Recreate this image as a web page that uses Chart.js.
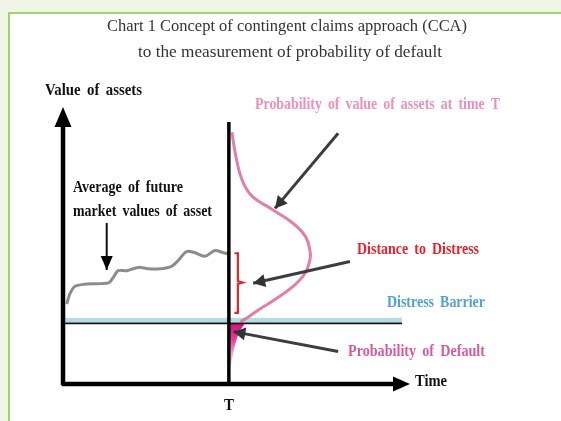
<!DOCTYPE html>
<html>
<head>
<meta charset="utf-8">
<script src="https://cdn.jsdelivr.net/npm/chart.js@4/dist/chart.umd.min.js"></script>
<style>
  html, body { margin: 0; padding: 0; }
  body { width: 561px; height: 421px; background: #eff5e4; position: relative; overflow: hidden; }
  #box { position: absolute; left: 8px; top: 12px; right: 0; bottom: 0; background: #ffffff;
         border-left: 2px solid #a2d26b; border-top: 2px solid #a2d26b; }
  #wrap { position: absolute; left: 0; top: 0; width: 561px; height: 421px; }
</style>
</head>
<body>
<div id="box"></div>
<div id="wrap"><canvas id="c" width="561" height="421"></canvas></div>
<script>
// ---- data (arbitrary units: time 0..100, value of assets 0..100) ----
const T = 47.8;                 // horizon T on the time axis
const barrier = 21.9;           // distress barrier (value of assets)
const timeAxisEnd = 100;
const valueAxisTop = 100;
const tLineTop = 94.6;
const barrierEnd = 97.7;

// average of future market values of assets (grey path)
const assetTime  = [1.1, 2.0, 3.5, 6.8, 13.1, 14.5, 15.9, 18.4, 21.7, 24.6, 28.0, 31.3, 33.2, 35.6, 38.0, 40.9, 43.8, 46.2, 47.6];
const assetValue = [28.9, 32.6, 35.3, 36.1, 36.5, 38.5, 40.9, 40.9, 42.1, 41.6, 41.6, 42.5, 44.6, 47.8, 47.4, 46.1, 48.2, 47.4, 47.0];

// probability density of value of assets at time T (above barrier)
const densityValue = [22.5, 23.8, 26.8, 30.5, 35.3, 40.1, 45.0, 48.0, 53.4, 58.3, 63.1, 67.9, 74.0, 83.6, 90.9];
const densityWidth = [3.3, 5.2, 8.6, 13.3, 18.6, 22.0, 23.4, 23.4, 22.0, 18.2, 12.4, 6.6, 3.7, 1.8, 0.9];

// probability of default tail (below barrier)
const tailValue = [21.9, 21.7, 19.5, 16.0, 11.0, 5.0];
const tailWidth = [0.0, 4.3, 3.3, 2.2, 1.2, 0.4];

// distance to distress bracket
const bracketLow = 25.7, bracketMid = 36.6, bracketHigh = 47.2;

// annotation arrows [fromTime, fromValue, toTime, toValue]
const arrowFrom = [[79.3, 90.5], [82.7, 44.2], [79.3, 11.7], [12.6, 58.1]];
const arrowTo   = [[61.1, 63.4], [54.8, 36.4], [49.1, 18.9], [12.6, 41.2]];

// texts
const titleLines = ["Chart 1 Concept of contingent claims approach (CCA)", "to the measurement of probability of default"];
const yAxisLabel = "Value of assets";
const xAxisLabel = "Time";
const tLabel = "T";
const averageLabel = ["Average of future", "market values of asset"];
const densityLabel = "Probability of value of assets at time T";
const distanceLabel = "Distance to Distress";
const barrierLabel = "Distress Barrier";
const defaultLabel = "Probability of Default";

// ---- build datasets ----
const pts = (xs, ys) => xs.map((x, i) => ({ x: x, y: ys[i] }));
const base = { pointRadius: 0, pointHoverRadius: 0, showLine: true, fill: false, clip: false };

const datasets = [];
// axes
datasets.push(Object.assign({}, base, { label: 'yaxis', data: [{x:0,y:-0.4},{x:0,y:valueAxisTop-6}], borderColor:'#000', borderWidth:4.5, order:1 }));
datasets.push(Object.assign({}, base, { label: 'xaxis', data: [{x:-0.4,y:0},{x:timeAxisEnd-4},].map(p=>({x:p.x,y:0})), borderColor:'#000', borderWidth:4.5, order:1 }));
datasets.push(Object.assign({}, base, { label: 'T', data: [{x:T,y:0},{x:T,y:tLineTop}], borderColor:'#000', borderWidth:3.5, order:2 }));
// barrier
datasets.push(Object.assign({}, base, { label: 'barrier', data: [{x:0.6,y:barrier},{x:barrierEnd,y:barrier}], borderColor:'#111', borderWidth:1.8, order:3 }));
// asset path
datasets.push(Object.assign({}, base, { label: 'asset', data: pts(assetTime, assetValue), borderColor:'#8c8c8c', borderWidth:3, tension:0.3, order:5 }));
// density
datasets.push(Object.assign({}, base, { label: 'density', data: pts(densityWidth.map(w => T + w), densityValue), borderColor:'rgba(222,112,162,0.9)', borderWidth:3, tension:0.4, order:6 }));
// tail
datasets.push(Object.assign({}, base, {
  label: 'tail',
  data: pts(tailWidth.map(w => T + w), tailValue).concat([{x:T, y:tailValue[tailValue.length-1]}]),
  borderWidth: 0, borderColor: 'rgba(0,0,0,0)', tension: 0.3, fill: 'shape', order: 7,
  backgroundColor: (c) => {
    const ch = c.chart;
    if (!ch.chartArea) return 'rgba(220,30,130,0.8)';
    const y0 = ch.scales.y.getPixelForValue(tailValue[0]);
    const y1 = ch.scales.y.getPixelForValue(tailValue[tailValue.length-1]);
    const g = ch.ctx.createLinearGradient(0, y0, 0, y1);
    g.addColorStop(0, '#d4107e');
    g.addColorStop(0.35, '#e2409a');
    g.addColorStop(1, 'rgba(245,170,210,0.25)');
    return g;
  }
}));
// bracket
datasets.push(Object.assign({}, base, {
  label: 'bracket',
  data: [{x:T+1.6,y:bracketHigh},{x:T+2.6,y:bracketHigh},{x:T+2.6,y:bracketMid+0.5},{x:T+4.0,y:bracketMid},{x:T+2.6,y:bracketMid-0.5},{x:T+2.6,y:bracketLow},{x:T+1.6,y:bracketLow}],
  borderColor:'#e8232b', borderWidth:2.2, order:4
}));
// arrows
arrowFrom.forEach((f, i) => {
  datasets.push(Object.assign({}, base, { label: 'arrow'+i, data: [{x:f[0],y:f[1]},{x:arrowTo[i][0],y:arrowTo[i][1]}], borderColor: i===3 ? '#111' : '#3d3d3d', borderWidth: i===3 ? 2 : 3, order:0 }));
});

// ---- plugin: band, arrowheads, texts ----
function fitText(ctx, text, x, y, width, align) {
  const w = ctx.measureText(text).width;
  const s = width / w;
  ctx.save();
  let left = x;
  if (align === 'center') left = x - width / 2;
  ctx.translate(left, y);
  ctx.scale(s, 1);
  ctx.textAlign = 'left';
  ctx.fillText(text, 0, 0);
  ctx.restore();
}
function head(ctx, tx, ty, fx, fy, len, half, color) {
  const a = Math.atan2(ty - fy, tx - fx);
  ctx.save();
  ctx.fillStyle = color;
  ctx.beginPath();
  ctx.moveTo(tx, ty);
  ctx.lineTo(tx - len*Math.cos(a) + half*Math.sin(a), ty - len*Math.sin(a) - half*Math.cos(a));
  ctx.lineTo(tx - len*Math.cos(a) - half*Math.sin(a), ty - len*Math.sin(a) + half*Math.cos(a));
  ctx.closePath();
  ctx.fill();
  ctx.restore();
}

const deco = {
  id: 'deco',
  beforeDatasetsDraw(chart) {
    const {ctx, scales:{x, y}} = chart;
    const py = y.getPixelForValue(barrier);
    ctx.save();
    ctx.fillStyle = '#b5dbe3';
    ctx.fillRect(x.getPixelForValue(0), py - 5.5, x.getPixelForValue(barrierEnd) - x.getPixelForValue(0), 4.5);
    ctx.restore();
  },
  afterDatasetsDraw(chart) {
    const {ctx, scales:{x, y}} = chart;
    // axis arrowheads
    head(ctx, x.getPixelForValue(0), y.getPixelForValue(valueAxisTop), x.getPixelForValue(0), y.getPixelForValue(0), 20, 8.5, '#000');
    head(ctx, x.getPixelForValue(timeAxisEnd), y.getPixelForValue(0), x.getPixelForValue(0), y.getPixelForValue(0), 17, 7.5, '#000');
    // annotation arrowheads
    arrowFrom.forEach((f, i) => {
      const t = arrowTo[i];
      head(ctx, x.getPixelForValue(t[0]), y.getPixelForValue(t[1]), x.getPixelForValue(f[0]), y.getPixelForValue(f[1]),
           i===3 ? 14 : 12, i===3 ? 6 : 6.5, i===3 ? '#000' : '#333');
    });

    // texts
    ctx.save();
    ctx.textBaseline = 'middle';
    ctx.fillStyle = '#333';
    ctx.font = '17px "Liberation Serif", "DejaVu Serif", serif';
    fitText(ctx, titleLines[0], 287, 27, 360, 'center');
    fitText(ctx, titleLines[1], 290, 53, 304, 'center');

    const bold = 'bold 16px "Liberation Serif", "DejaVu Serif", serif';
    ctx.font = bold;
    try { ctx.wordSpacing = '3px'; } catch (e) {}
    ctx.fillStyle = '#111';
    fitText(ctx, yAxisLabel, 45, 91, 97);
    fitText(ctx, averageLabel[0], 73, 188, 110);
    fitText(ctx, averageLabel[1], 73, 212, 139);
    fitText(ctx, xAxisLabel, 415, 382, 32);
    fitText(ctx, tLabel, 229, 406, 10, 'center');
    ctx.fillStyle = '#ec8fba';
    fitText(ctx, densityLabel, 255, 105, 245);
    ctx.fillStyle = '#e5232b';
    fitText(ctx, distanceLabel, 357, 250, 122);
    ctx.fillStyle = '#4f9fd8';
    fitText(ctx, barrierLabel, 387, 303, 98);
    ctx.fillStyle = '#d65aa0';
    fitText(ctx, defaultLabel, 348, 352, 137);
    ctx.restore();
  }
};

new Chart(document.getElementById('c'), {
  type: 'scatter',
  data: { datasets: datasets },
  options: {
    responsive: false,
    animation: false,
    events: [],
    layout: { padding: { left: 63, right: 151, top: 107, bottom: 37 } },
    scales: {
      x: { type: 'linear', min: 0, max: 100, display: false },
      y: { type: 'linear', min: 0, max: 100, display: false }
    },
    plugins: { legend: { display: false }, tooltip: { enabled: false }, title: { display: false } }
  },
  plugins: [deco]
});
</script>
</body>
</html>
